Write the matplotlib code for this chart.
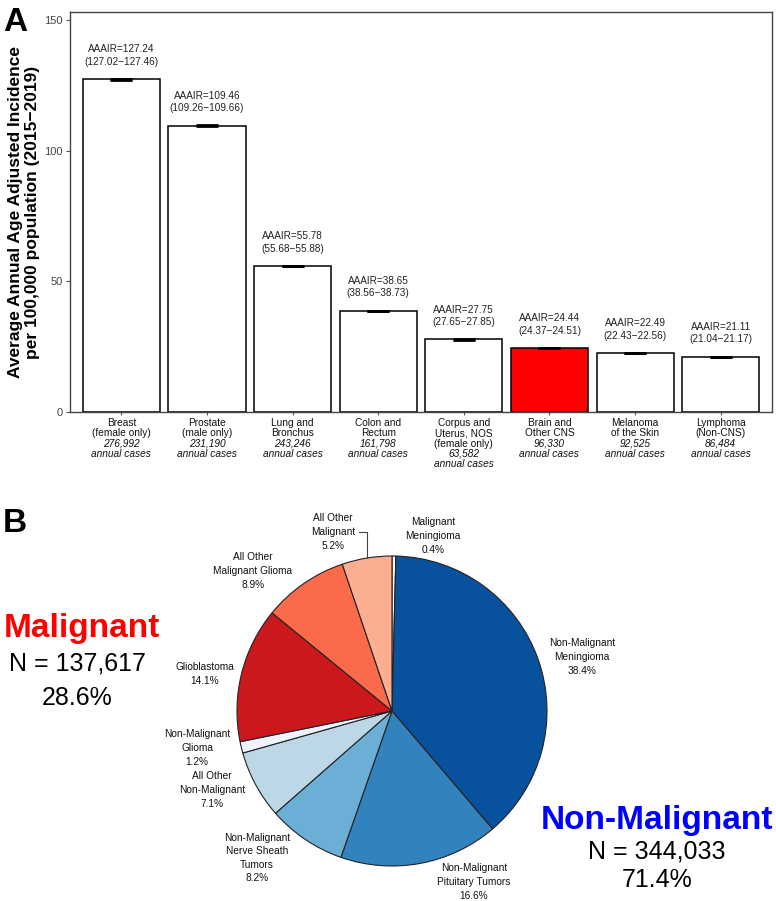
import matplotlib
matplotlib.use('Agg')
import matplotlib.pyplot as plt
import numpy as np

plt.rcParams['font.family'] = ['Liberation Sans', 'DejaVu Sans']

# ---- Panel A data ----
sites = ['Breast\n(female only)', 'Prostate\n(male only)', 'Lung and\nBronchus',
         'Colon and\nRectum', 'Corpus and\nUterus, NOS\n(female only)',
         'Brain and\nOther CNS', 'Melanoma\nof the Skin', 'Lymphoma\n(Non-CNS)']
annual_cases = ['276,992', '231,190', '243,246', '161,798', '63,582',
                '96,330', '92,525', '86,484']
aaair = [127.24, 109.46, 55.78, 38.65, 27.75, 24.44, 22.49, 21.11]
ci_low = [127.02, 109.26, 55.68, 38.56, 27.65, 24.37, 22.43, 21.04]
ci_high = [127.46, 109.66, 55.88, 38.73, 27.85, 24.51, 22.56, 21.17]
highlight = 'Brain and\nOther CNS'

# ---- Panel B data ----
pie_labels = ['Malignant\nMeningioma', 'Non-Malignant\nMeningioma',
              'Non-Malignant\nPituitary Tumors', 'Non-Malignant\nNerve Sheath\nTumors',
              'All Other\nNon-Malignant', 'Non-Malignant\nGlioma', 'Glioblastoma',
              'All Other\nMalignant Glioma', 'All Other\nMalignant']
pie_pct = [0.4, 38.4, 16.6, 8.2, 7.1, 1.2, 14.1, 8.9, 5.2]
pie_colors = ['#fff5f0', '#08519c', '#3182bd', '#6baed6', '#bdd7e7',
              '#eff3ff', '#cb181d', '#fb6a4a', '#fcae91']
# label centres in pixel coords of the lower panel (x, y from top of image)
label_pos = [(433, 536), (582, 657), (474, 882), (257, 858), (212, 790),
             (197, 748), (205, 674), (253, 571), (333, 532)]

W, H = 776, 901
fig = plt.figure(figsize=(W / 100, H / 100), dpi=100)

# ================= Panel B (pie) =================
axb = fig.add_axes([0, 0, 1, 0.5])
axb.set_xlim(0, W)
axb.set_ylim(0, H / 2)
axb.axis('off')

def py(y_img):
    return H - y_img

wedges, _ = axb.pie(pie_pct, colors=pie_colors, startangle=90, counterclock=False,
                    center=(392, py(711)), radius=155,
                    wedgeprops={'edgecolor': '#222222', 'linewidth': 0.8})
axb.set_xlim(0, W)
axb.set_ylim(0, H / 2)
axb.set_aspect('equal')

for lab, pct, (lx, ly) in zip(pie_labels, pie_pct, label_pos):
    axb.text(lx, py(ly), f'{lab}\n{pct}%', ha='center', va='center',
             fontsize=7.3, linespacing=1.45, color='#111111')

# leader line for "All Other Malignant"
w = wedges[-1]
mid = np.deg2rad((w.theta1 + w.theta2) / 2)
ex = w.center[0] + w.r * np.cos(mid)
ey = w.center[1] + w.r * np.sin(mid)
axb.plot([ex, ex, 359], [ey, py(532), py(532)], color='#444444', lw=0.8)

axb.text(82, py(628), 'Malignant', color='#ff0000', fontsize=24,
         fontweight='bold', ha='center', va='center')
axb.text(77, py(663), 'N = 137,617', fontsize=18, ha='center', va='center')
axb.text(77, py(698), '28.6%', fontsize=18, ha='center', va='center')
axb.text(657, py(820), 'Non-Malignant', color='#0000ff', fontsize=24,
         fontweight='bold', ha='center', va='center')
axb.text(657, py(852), 'N = 344,033', fontsize=18, ha='center', va='center')
axb.text(657, py(880), '71.4%', fontsize=18, ha='center', va='center')

# ================= Panel A (bars) =================
ax = fig.add_axes([70 / W, 1 - 412 / H, 702 / W, 400 / H])
x = np.arange(1, len(sites) + 1)
colors = ['#ff0000' if s == highlight else 'white' for s in sites]
ax.bar(x, aaair, width=0.9, color=colors, edgecolor='black', linewidth=1.1)
yerr = [np.array(aaair) - np.array(ci_low), np.array(ci_high) - np.array(aaair)]
ax.errorbar(x, aaair, yerr=yerr, fmt='none', ecolor='black', elinewidth=1.5,
            capsize=8, capthick=2)

for xi, v, lo, hi in zip(x, aaair, ci_low, ci_high):
    ax.annotate(f'AAAIR={v:.2f}\n({lo:.2f}\u2212{hi:.2f})', (xi, v),
                xytext=(0, 9), textcoords='offset points', ha='center',
                va='bottom', fontsize=7.2, linespacing=1.3, color='#222222')

# multi-line category labels: name in regular, counts in italic
line_h = 7.3
for xi, name, n in zip(x, sites, annual_cases):
    lines = [(t, 'normal') for t in name.split('\n')]
    lines += [(n, 'italic'), ('annual cases', 'italic')]
    for i, (t, st) in enumerate(lines):
        ax.annotate(t, (xi, 0), xycoords=('data', 'axes fraction'),
                    xytext=(0, -4.5 - i * line_h), textcoords='offset points',
                    ha='center', va='top', fontsize=7.3, style=st, color='#111111',
                    annotation_clip=False)

ax.set_xlim(0.4, 8.6)
ax.set_ylim(0, 153)
ax.set_xticks(x)
ax.set_xticklabels([])
ax.tick_params(axis='x', length=2.5, color='#555555')
ax.set_yticks([0, 50, 100, 150])
ax.tick_params(axis='y', length=3, color='#555555', labelsize=8,
               labelcolor='#444444', pad=2)
for sp in ax.spines.values():
    sp.set_color('#444444')
    sp.set_linewidth(1.0)
ax.set_ylabel('Average Annual Age Adjusted Incidence\nper 100,000 population (2015\u22122019)',
              fontsize=12.5, fontweight='bold', linespacing=1.2,
              ha='center', va='center')
ax.yaxis.set_label_coords(-46 / 702, 0.5)

fig.text(0.004, 0.992, 'A', fontsize=24, fontweight='bold', va='top', ha='left')
fig.text(0.004, 1 - 508 / H, 'B', fontsize=24, fontweight='bold', va='top', ha='left')

fig.savefig('out.png', dpi=100)
